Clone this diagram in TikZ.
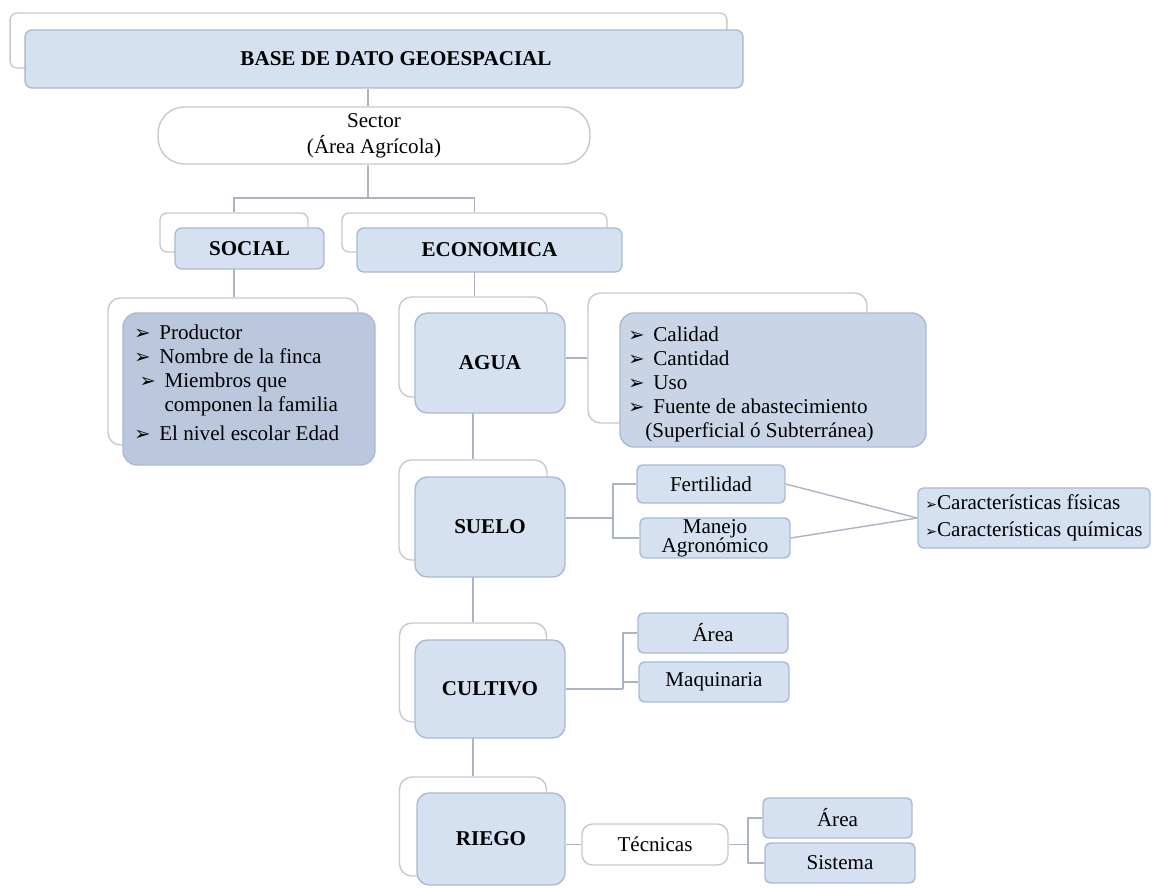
\documentclass[tikz,border=0pt]{standalone}
\usepackage{fontspec}
\setmainfont{Liberation Serif}
\newfontfamily\symfont{DejaVu Sans}
\usetikzlibrary{positioning, backgrounds}

\definecolor{backgray}{RGB}{196,202,210}
\definecolor{frontblue}{RGB}{213,224,241}
\definecolor{frontedge}{RGB}{168,186,214}
\definecolor{socblue}{RGB}{186,199,220}
\definecolor{aguablue}{RGB}{201,212,230}
\definecolor{linegray}{RGB}{170,180,194}

\newcommand{\mainsize}{\fontsize{12}{13.6}\selectfont}
\newcommand{\bul}{{\symfont\fontsize{11}{11}\selectfont ➢}\hspace{5pt}}
\newcommand{\tick}{{\symfont\footnotesize ➢}}

\tikzset{
  boxsize/.style 2 args={minimum width=#1, minimum height=#2},
  backbox/.style={draw=backgray, fill=white, line width=0.8pt,
    rounded corners=4pt, inner sep=0pt},
  frontbox/.style={draw=frontedge, fill=frontblue, line width=0.8pt,
    rounded corners=4pt, inner sep=0pt, font=\mainsize\bfseries},
  leafbox/.style={draw=frontedge, fill=frontblue, line width=0.8pt,
    rounded corners=3pt, inner sep=0pt, font=\mainsize},
  listbox/.style={draw=frontedge, line width=0.8pt,
    rounded corners=8pt, inner sep=0pt},
  whitebox/.style={draw=backgray, fill=white, line width=0.8pt,
    rounded corners=15pt, inner sep=0pt, font=\mainsize},
  bigbox/.style={rounded corners=7pt},
  link/.style={draw=linegray, line width=0.8pt}
}

\begin{document}
\begin{tikzpicture}[x=0.02cm, y=-0.02cm, font=\mainsize]
\useasboundingbox (0,0) rectangle (1154,888);

% top of the tree
\node[backbox, boxsize={14.34cm}{1.10cm}] (titleb) at (368.5,40.5) {};
\node[frontbox, boxsize={14.36cm}{1.16cm}] (title) at (384,59)
    {\hspace*{0.48cm}BASE DE DATO GEOESPACIAL};
\node[whitebox, align=center, boxsize={8.64cm}{1.14cm},
    font=\fontsize{12}{14.7}\selectfont] (sector) at (374,135.5)
    {Sector\\(Área Agrícola)};
\coordinate (split) at (368,198);

% social / economica
\node[backbox, boxsize={2.96cm}{0.78cm}] (socb) at (234,232.5) {};
\node[frontbox, boxsize={2.98cm}{0.82cm}] (soc) at (249.5,248.5) {SOCIAL};
\node[backbox, boxsize={5.30cm}{0.78cm}] (econb) at (474.5,232.5) {};
\node[frontbox, boxsize={5.30cm}{0.88cm}] (econ) at (489.5,250) {ECONOMICA};

% social list
\node[backbox, bigbox, boxsize={5.0cm}{2.94cm}] (socib) at (233,371.5) {};
\node[listbox, fill=socblue, boxsize={5.04cm}{3.04cm}] (soci) at (249,389) {};
\node[anchor=north west, align=left, inner sep=0pt] (socitxt) at (134,325)
    {\bul Productor\\
     \bul Nombre de la finca\\
     \hspace*{3pt}\bul Miembros que\\
     \hspace*{3pt}\phantom{\bul}componen la familia\\[3pt]
     \bul El nivel escolar Edad};

% agua
\node[backbox, bigbox, boxsize={2.96cm}{2.0cm}] (aguab) at (473,347) {};
\node[frontbox, bigbox, boxsize={3.0cm}{2.0cm}] (agua) at (490,363) {AGUA};
\node[backbox, bigbox, boxsize={5.58cm}{2.6cm}] (aguaib) at (727.5,358) {};
\node[listbox, fill=aguablue, boxsize={6.12cm}{2.68cm}] (aguai) at (773,380) {};
\node[anchor=north west, align=left, inner sep=0pt] (aguatxt) at (628,327)
    {\bul Calidad\\
     \bul Cantidad\\
     \bul Uso\\
     \bul Fuente de abastecimiento\\
     \hspace*{0.34cm}(Superficial ó Subterránea)};

% suelo
\node[backbox, bigbox, boxsize={2.96cm}{2.0cm}] (suelob) at (473,510) {};
\node[frontbox, bigbox, boxsize={3.0cm}{2.0cm}] (suelo) at (490,527) {SUELO};
\node[leafbox, boxsize={2.96cm}{0.76cm}] (fert) at (711,484) {Fertilidad};
\node[leafbox, align=center, boxsize={3.0cm}{0.8cm},
    font=\fontsize{12}{11}\selectfont] (manejo) at (715,538)
    {Manejo\\Agronómico};
\node[leafbox, align=left, inner xsep=2pt, boxsize={4.64cm}{1.2cm},
    font=\fontsize{12}{15.3}\selectfont] (carac) at (1034,518)
    {\tick Características físicas\\ \tick Características químicas};
\coordinate (sbr) at (613,518);

% cultivo
\node[backbox, bigbox, boxsize={2.94cm}{1.98cm}] (cultb) at (473,672.5) {};
\node[frontbox, bigbox, boxsize={3.0cm}{1.96cm}] (cult) at (490,689) {CULTIVO};
\node[leafbox, boxsize={3.0cm}{0.8cm}] (area) at (713,633) {Área};
\node[leafbox, boxsize={3.0cm}{0.8cm}] (maq) at (714,682) {Maquinaria};
\coordinate (cbr) at (623,689);

% riego
\node[backbox, bigbox, boxsize={2.94cm}{1.98cm}] (riegob) at (473,826.5) {};
\node[frontbox, bigbox, boxsize={2.96cm}{1.84cm}] (riego) at (491,839) {RIEGO};
\node[whitebox, rounded corners=6pt, boxsize={2.92cm}{0.82cm}] (tec)
    at (655,844.5) {Técnicas};
\node[leafbox, boxsize={2.98cm}{0.8cm}] (area2) at (837.5,818) {Área};
\node[leafbox, boxsize={3.0cm}{0.8cm}] (sist) at (840,863) {Sistema};
\coordinate (rbr) at (748,844.5);

% connectors
\begin{scope}[on background layer]
\draw[link] (title.south -| split) -- (sector.north -| split);
\draw[link] (sector.south -| split) -- (split);
\draw[link] (socb.north) |- (split) -| (econb.north);
\draw[link] (socb) -- (socb |- socib.north);
\draw[link] (econb) -- (econb |- aguab.north);
\draw[link] (aguab) -- (aguab |- suelob.north);
\draw[link] (suelob) -- (suelob |- cultb.north);
\draw[link] (cultb) -- (cultb |- riegob.north);
\draw[link] (agua.east |- aguaib) -- (aguaib.west);
\draw[link] (suelo.east |- sbr) -- (sbr);
\draw[link] (fert.west) -| (sbr) |- (manejo.west);
\draw[link] (fert.east) -- (carac.west);
\draw[link] (manejo.east) -- (carac.west);
\draw[link] (cult.east) -- (cbr);
\draw[link] (area.west) -| (cbr) |- (maq.west);
\draw[link] (riego.east |- tec) -- (tec.west);
\draw[link] (tec.east) -- (rbr);
\draw[link] (area2.west) -| (rbr) |- (sist.west);
\end{scope}
\end{tikzpicture}
\end{document}
